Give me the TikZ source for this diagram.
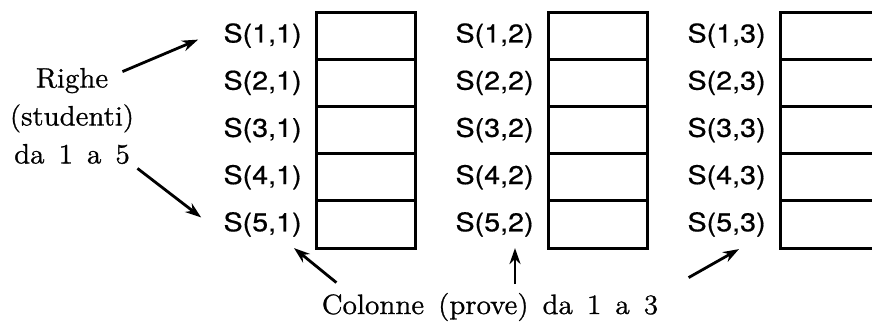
\documentclass[tikz,border=0pt]{standalone}
\usepackage{fontspec}
\usetikzlibrary{positioning,arrows.meta,calc}
\newfontfamily\cellfont[FakeStretch=1.12,FakeBold=0.6]{TeX Gyre Heros}
\newfontfamily\notefam[FakeStretch=1.05,FakeBold=1]{Latin Modern Roman}
\newcommand{\notefont}{\notefam\fontsize{14}{19}\selectfont\spaceskip=0.5em\relax}
\tikzset{
  cell/.style={rectangle, draw, line width=1.5pt, minimum width=49.5pt,
               minimum height=23.6pt, inner sep=0pt, outer sep=0pt},
  slbl/.style={inner sep=0pt, font=\cellfont\fontsize{12.8}{15}\selectfont},
  note/.style={inner sep=0pt, align=center, font=\notefont},
  flow/.style={-{Stealth[length=8pt,width=5.5pt]}, line width=1.4pt},
}
\begin{document}
\begin{tikzpicture}[x=0.5pt, y=-0.5pt]
  \clip (0,0) rectangle (872,322);

  % ===== three columns of five cells, each cell with its label ==========
  \foreach \c/\x in {1/316,2/548,3/780}{
    \foreach \r in {1,...,5}{
      \node[cell] (c\r-\c) at ({\x+49.5},{12+47.2*(\r-0.5)}) {};
      \node[slbl, left=7pt of c\r-\c] (s\r-\c) {S(\r,\c)};
    }
  }

  % ===== notes ==========================================================
  \node[note] (rows) at (72,116) {Righe\\(studenti)\\da 1 a 5};
  \node[note, anchor=base] (cols) at (490,314) {Colonne (prove) da 1 a 3};

  % ===== arrows : rows -------------------------------------------------
  \draw[flow] ($(rows.north east)+(-12,4)$) -- ($(s1-1.west)+(-25,4)$);
  \draw[flow] ($(rows.south east)+(3,4)$) -- ($(s5-1.west)+(-22,-7)$);

  % ===== arrows : columns ----------------------------------------------
  \draw[flow] ($(cols.north west)+(15,-10)$) -- ($(s5-1.south east)+(-8,11)$);
  \draw[flow] ($(s5-2.south east)+(-19,47)$) -- ++(0,-36);
  \draw[flow] ($(cols.north east)+(30,-15)$) -- ($(s5-3.south east)+(-27,12)$);

\end{tikzpicture}
\end{document}
